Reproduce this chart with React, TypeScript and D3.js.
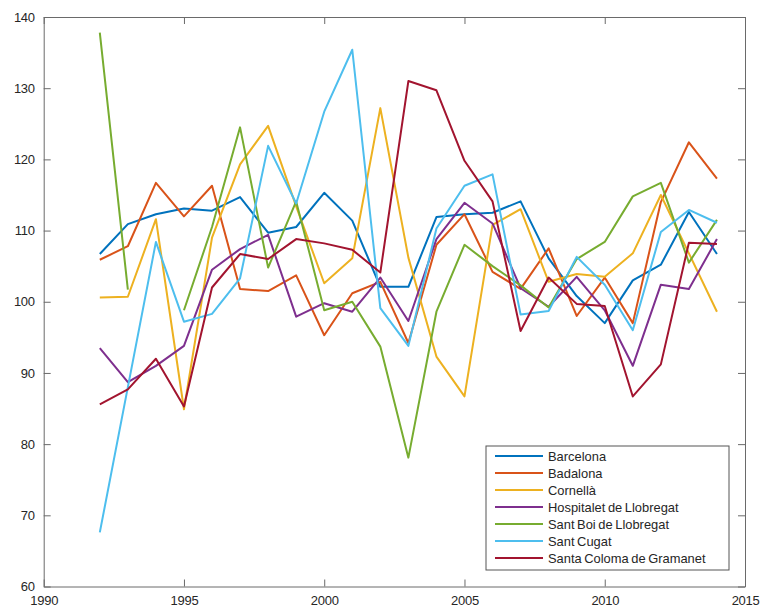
import { axisBottom, axisLeft, axisRight, axisTop, line, scaleLinear, select } from 'd3';
import React, { useEffect, useRef } from 'react';

const years = [
  1992, 1993, 1994, 1995, 1996, 1997, 1998, 1999, 2000, 2001, 2002, 2003,
  2004, 2005, 2006, 2007, 2008, 2009, 2010, 2011, 2012, 2013, 2014,
];

const barcelona = [106.7, 110.9, 112.3, 113.1, 112.8, 114.7, 109.7, 110.5, 115.3, 111.4, 102.1, 102.1, 111.9, 112.3, 112.5, 114.1, 106.1, 100.8, 97.0, 103.0, 105.2, 112.6, 106.7];
const badalona = [105.9, 107.8, 116.7, 112.0, 116.3, 101.8, 101.5, 103.7, 95.3, 101.2, 102.8, 94.2, 108.0, 112.3, 104.2, 101.8, 107.5, 98.0, 103.4, 97.0, 114.0, 122.4, 117.3];
const cornella = [100.6, 100.7, 111.6, 84.9, 109.0, 119.3, 124.7, 113.4, 102.6, 106.1, 127.2, 106.2, 92.3, 86.7, 110.8, 113.0, 102.8, 103.9, 103.5, 106.8, 115.0, 106.8, 98.6];
const hospitalet = [93.5, 88.7, 91.0, 93.8, 104.5, 107.4, 109.4, 97.9, 99.8, 98.6, 103.4, 97.3, 108.8, 113.9, 111.0, 101.9, 99.3, 103.5, 98.8, 91.0, 102.4, 101.8, 108.8];
// 1994 missing for Sant Boi (gap in the line)
const santBoi = [137.8, 101.7, null, 98.8, 110.5, 124.5, 104.8, 114.1, 98.8, 100.0, 93.7, 78.1, 98.6, 108.0, 105.0, 102.3, 99.2, 106.0, 108.4, 114.8, 116.7, 105.5, 111.5];
const santCugat = [67.6, 88.0, 108.4, 97.2, 98.3, 103.3, 121.9, 113.8, 126.7, 135.4, 99.1, 93.8, 110.3, 116.3, 117.9, 98.2, 98.7, 106.3, 102.4, 96.0, 109.8, 112.9, 111.1];
const santaColoma = [85.6, 87.7, 92.0, 85.3, 102.0, 106.7, 106.0, 108.8, 108.2, 107.3, 104.1, 131.0, 129.7, 119.8, 114.1, 95.9, 103.4, 99.7, 99.4, 86.7, 91.2, 108.3, 108.1];

const names = [
  'Barcelona',
  'Badalona',
  'Cornellà',
  'Hospitalet de Llobregat',
  'Sant Boi de Llobregat',
  'Sant Cugat',
  'Santa Coloma de Gramanet',
];
const colors = ['#0072BD', '#D95319', '#EDB120', '#7E2F8E', '#77AC30', '#4DBEEE', '#A2142F'];
const xTicks = [1990, 1995, 2000, 2005, 2010, 2015];
const yTicks = [60, 70, 80, 90, 100, 110, 120, 130, 140];

const W = 764;
const H = 612;
const L = 43.7;
const R = 745;
const T = 17;
const B = 586.5;
const FONT = '"Liberation Sans", Arial, sans-serif';
const AXIS = '#6a6a6a';
const TEXT = '#262626';

export default function App() {
  const svgRef = useRef<SVGSVGElement>(null);

  useEffect(() => {
    const svg = select(svgRef.current);
    svg.selectAll('*').remove();

    const x = scaleLinear().domain([1990, 2015]).range([L, R]);
    const y = scaleLinear().domain([60, 140]).range([B, T]);

    const series = [barcelona, badalona, cornella, hospitalet, santBoi, santCugat, santaColoma];

    svg.append('rect').attr('width', W).attr('height', H).attr('fill', '#fff');

    // axes, ticks pointing inward like matlab
    const styleAxis = (g: any) => {
      g.select('.domain').attr('stroke', AXIS).attr('stroke-width', 1);
      g.selectAll('.tick line').attr('stroke', AXIS);
      g.selectAll('text')
        .attr('fill', TEXT)
        .style('font-family', FONT)
        .style('font-size', '13px')
        .style('letter-spacing', '-0.3px');
    };

    svg.append('g')
      .attr('transform', `translate(0,${B})`)
      .call(axisBottom(x).tickValues(xTicks).tickFormat((d: any) => String(d)).tickSizeInner(-7).tickSizeOuter(0).tickPadding(9))
      .call(styleAxis);
    svg.append('g')
      .attr('transform', `translate(0,${T})`)
      .call(axisTop(x).tickValues(xTicks).tickFormat(() => '').tickSizeInner(-7).tickSizeOuter(0))
      .call(styleAxis);
    svg.append('g')
      .attr('transform', `translate(${L},0)`)
      .call(axisLeft(y).tickValues(yTicks).tickFormat((d: any) => String(d)).tickSizeInner(-7).tickSizeOuter(0).tickPadding(9))
      .call(styleAxis);
    svg.append('g')
      .attr('transform', `translate(${R},0)`)
      .call(axisRight(y).tickValues(yTicks).tickFormat(() => '').tickSizeInner(-7).tickSizeOuter(0))
      .call(styleAxis);

    const path = line<number | null>()
      .defined(d => d !== null)
      .x((_, i) => x(years[i]))
      .y(d => y(d as number));

    svg.append('g')
      .selectAll('path')
      .data(series)
      .join('path')
      .attr('d', d => path(d))
      .attr('fill', 'none')
      .attr('stroke', (_, i) => colors[i])
      .attr('stroke-width', 2)
      .attr('stroke-linejoin', 'round');

    // legend
    const lg = svg.append('g');
    lg.append('rect')
      .attr('x', 486)
      .attr('y', 446)
      .attr('width', 243)
      .attr('height', 124)
      .attr('fill', '#fff')
      .attr('stroke', '#555')
      .attr('stroke-width', 1);
    const row = lg.selectAll('g.row')
      .data(names)
      .join('g')
      .attr('class', 'row')
      .attr('transform', (_, i) => `translate(0,${456 + i * 17})`);
    row.append('line')
      .attr('x1', 495)
      .attr('x2', 543)
      .attr('stroke', (_, i) => colors[i])
      .attr('stroke-width', 2);
    row.append('text')
      .attr('x', 548)
      .attr('dy', '0.35em')
      .attr('fill', TEXT)
      .style('font-family', FONT)
      .style('font-size', '12.9px')
      .style('word-spacing', '-1px')
      .text(d => d);
  }, []);

  return (
    <div style={{ position: 'absolute', left: 0, top: 0 }}>
      <svg ref={svgRef} width={W} height={H} style={{ display: 'block' }} />
    </div>
  );
}
